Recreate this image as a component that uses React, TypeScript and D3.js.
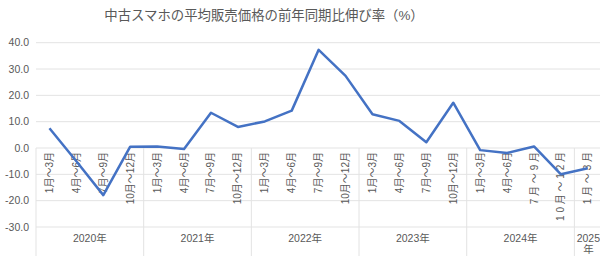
import React from "react";
import * as d3 from "d3";

const title = "中古スマホの平均販売価格の前年同期比伸び率（%）";

const quarterLabels = [
  "1月～3月", "4月～6月", "7月～9月", "10月～12月",
  "1月～3月", "4月～6月", "7月～9月", "10月～12月",
  "1月～3月", "4月～6月", "7月～9月", "10月～12月",
  "1月～3月", "4月～6月", "7月～9月", "10月～12月",
  "1月～3月", "4月～6月", "7 月 ～ 9 月", "1 0 月 ～ 1 2 月",
  "1 月 ～ 3 月",
];

const yearLabels = ["2020年", "2021年", "2022年", "2023年", "2024年", "2025年"];
const quartersPerYear = [4, 4, 4, 4, 4, 1];

const growthRates = [
  7.5, -5.0, -17.9, 0.5,
  0.6, -0.4, 13.4, 8.0,
  10.1, 14.2, 37.3, 27.4,
  12.8, 10.3, 2.2, 17.2,
  -0.8, -1.9, 0.6, -10.0,
  -7.7,
];

const yTicks = [40, 30, 20, 10, 0, -10, -20, -30];

const W = 600;
const H = 256;
const left = 36;
const right = 601.3;
const FONT = "'Liberation Sans', 'Noto Sans CJK JP', sans-serif";
const TEXT = "#595959";
const GRID = "#e3e3e3";

export default function App() {
  const x = d3
    .scaleBand<number>()
    .domain(d3.range(growthRates.length))
    .range([left, right])
    .paddingInner(0)
    .paddingOuter(0);
  const y = d3.scaleLinear().domain([-30, 40]).range([227, 42.7]);

  const line = d3
    .line<number>()
    .x((_, i) => (x(i) as number) + x.bandwidth() / 2)
    .y((d) => y(d));

  // year group boundaries
  const bounds: number[] = [0];
  quartersPerYear.forEach((q, i) => bounds.push(bounds[i] + q));
  const bx = (k: number) => left + k * x.bandwidth();

  return (
    <svg
      width={W}
      height={H}
      style={{ position: "absolute", left: 0, top: 0, background: "#fff" }}
      fontFamily={FONT}
    >
      <text x={264} y={20} textAnchor="middle" fontSize={13.4} fill={TEXT}>
        {title}
      </text>

      {yTicks.map((t) => (
        <g key={t}>
          <line x1={left} x2={W} y1={y(t)} y2={y(t)} stroke={GRID} strokeWidth={1} />
          <text
            x={29}
            y={y(t)}
            dy="0.35em"
            textAnchor="end"
            fontSize={10.5}
            fill={TEXT}
          >
            {t.toFixed(1)}
          </text>
        </g>
      ))}

      {bounds.map((k) => (
        <line
          key={k}
          x1={bx(k)}
          x2={bx(k)}
          y1={y(0)}
          y2={H}
          stroke={GRID}
          strokeWidth={1}
        />
      ))}

      {quarterLabels.map((lab, i) => {
        const cx = (x(i) as number) + x.bandwidth() / 2;
        return (
          <text
            key={i}
            transform={`translate(${cx},${y(0) + 4}) rotate(-90)`}
            textAnchor="end"
            dy="0.35em"
            fontSize={10}
            fill={TEXT}
            style={{ whiteSpace: "pre" }}
          >
            {lab}
          </text>
        );
      })}

      {yearLabels.map((lab, i) => {
        const cx = (bx(bounds[i]) + bx(bounds[i + 1])) / 2;
        if (quartersPerYear[i] === 1) {
          return (
            <text key={lab} x={bx(bounds[i]) + 14} textAnchor="middle" fontSize={10.5} fill={TEXT}>
              <tspan x={bx(bounds[i]) + 14} y={242}>{lab.slice(0, 4)}</tspan>
              <tspan x={bx(bounds[i]) + 14} y={253}>{lab.slice(4)}</tspan>
            </text>
          );
        }
        return (
          <text key={lab} x={cx} y={242} textAnchor="middle" fontSize={10.5} fill={TEXT}>
            {lab}
          </text>
        );
      })}

      <path
        d={line(growthRates) || ""}
        fill="none"
        stroke="#4472c4"
        strokeWidth={2.5}
        strokeLinejoin="round"
      />
    </svg>
  );
}
